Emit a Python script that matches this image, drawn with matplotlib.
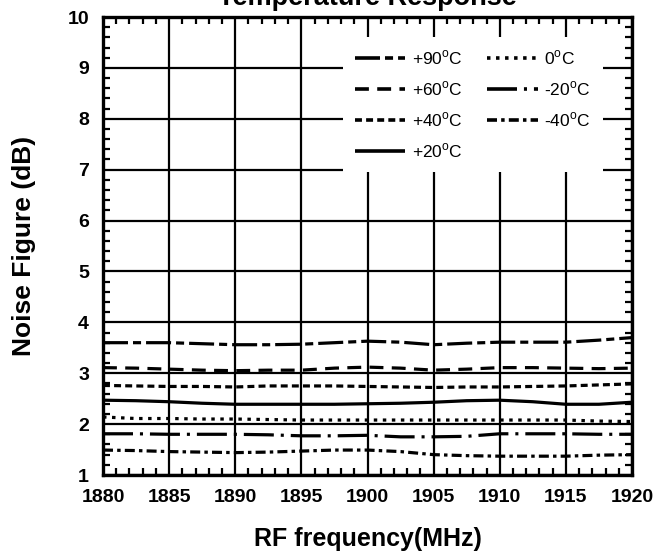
import matplotlib
matplotlib.use("Agg")
import matplotlib.pyplot as plt
from matplotlib.ticker import MultipleLocator

plt.rcParams['font.family'] = ['Liberation Sans', 'DejaVu Sans']
plt.rcParams['mathtext.fontset'] = 'custom'
plt.rcParams['mathtext.rm'] = 'Liberation Sans'
plt.rcParams['lines.scale_dashes'] = False

freq = [1880, 1882.5, 1885, 1887.5, 1890, 1892.5, 1895, 1897.5, 1900,
        1902.5, 1905, 1907.5, 1910, 1912.5, 1915, 1917.5, 1920]

nf_p90 = [3.60, 3.60, 3.60, 3.58, 3.56, 3.56, 3.57, 3.60, 3.63,
          3.61, 3.56, 3.59, 3.61, 3.61, 3.61, 3.65, 3.70]
nf_p60 = [3.11, 3.10, 3.08, 3.06, 3.05, 3.06, 3.06, 3.10, 3.12,
          3.10, 3.06, 3.08, 3.11, 3.11, 3.10, 3.09, 3.10]
nf_p40 = [2.76, 2.75, 2.74, 2.74, 2.73, 2.75, 2.75, 2.75, 2.74,
          2.73, 2.72, 2.73, 2.73, 2.74, 2.75, 2.77, 2.79]
nf_p20 = [2.47, 2.46, 2.44, 2.41, 2.39, 2.39, 2.39, 2.39, 2.40,
          2.41, 2.43, 2.46, 2.47, 2.44, 2.39, 2.39, 2.43]
nf_0 = [2.14, 2.11, 2.11, 2.10, 2.10, 2.09, 2.08, 2.08, 2.08,
        2.08, 2.08, 2.08, 2.08, 2.08, 2.08, 2.06, 2.05]
nf_m20 = [1.81, 1.81, 1.80, 1.80, 1.80, 1.79, 1.77, 1.77, 1.78,
          1.75, 1.75, 1.76, 1.81, 1.81, 1.81, 1.80, 1.80]
nf_m40 = [1.49, 1.48, 1.46, 1.45, 1.44, 1.45, 1.47, 1.49, 1.49,
          1.46, 1.40, 1.38, 1.37, 1.37, 1.37, 1.39, 1.40]

labels = ["+90$^{\\mathrm{o}}$C", "+60$^{\\mathrm{o}}$C", "+40$^{\\mathrm{o}}$C",
          "+20$^{\\mathrm{o}}$C", "0$^{\\mathrm{o}}$C", "-20$^{\\mathrm{o}}$C",
          "-40$^{\\mathrm{o}}$C"]
series = [nf_p90, nf_p60, nf_p40, nf_p20, nf_0, nf_m20, nf_m40]
styles = [(0, (18, 3.6, 5.8, 3.6)),
          (0, (10, 6)),
          (0, (5, 3)),
          'solid',
          (0, (2.5, 4)),
          (0, (21.6, 5, 2.2, 5)),
          (0, (7.2, 3, 2.5, 3))]

x_ticks = [1880, 1885, 1890, 1895, 1900, 1905, 1910, 1915, 1920]
y_ticks = [1, 2, 3, 4, 5, 6, 7, 8, 9, 10]

fig = plt.figure(figsize=(6.68, 5.56), dpi=100)
ax = fig.add_axes([103/668, 1-475/556, (632-103)/668, (475-17)/556])

for ys, lab, ls in zip(series, labels, styles):
    ax.plot(freq, ys, color='black', lw=2.3, linestyle=ls, label=lab,
            solid_capstyle='butt', dash_capstyle='butt')

ax.set_xlim(1880, 1920)
ax.set_ylim(1, 10)
ax.set_xticks(x_ticks)
ax.set_yticks(y_ticks)
ax.xaxis.set_minor_locator(MultipleLocator(1))
ax.yaxis.set_minor_locator(MultipleLocator(0.2))
ax.grid(True, which='major', color='black', lw=1.6)
ax.set_axisbelow(True)
for s in ax.spines.values():
    s.set_linewidth(2.4)
ax.tick_params(which='both', direction='in', top=True, right=True, width=1.6)
ax.tick_params(which='major', length=0, labelsize=14)
ax.tick_params(axis='x', which='major', pad=10)
ax.tick_params(axis='y', which='major', pad=10)
ax.tick_params(which='minor', length=5)
for t in ax.get_xticklabels() + ax.get_yticklabels():
    t.set_fontweight('bold')

ax.set_xlabel("RF frequency(MHz)", fontsize=18, fontweight='bold')
ax.set_ylabel("Noise Figure (dB)", fontsize=19, fontweight='bold')
ax.xaxis.set_label_coords(0.5, (475-527)/458)
ax.yaxis.set_label_coords((36-103)/529, 0.5)

fig.text(367/668, 1-5/556, "Temperature Response", ha='center', va='baseline',
         fontsize=19.5, fontweight='bold')

leg = ax.legend(ncol=2, loc='upper left',
                bbox_to_anchor=((334-103)/529, 1-(28-17)/458),
                fontsize=12.5, frameon=True, facecolor='white', edgecolor='none',
                framealpha=1, fancybox=False, handlelength=2.9,
                handletextpad=0.4, columnspacing=1.4, labelspacing=0.7,
                borderpad=0.7)
for h in leg.get_lines():
    h.set_linewidth(2.6)

fig.savefig("out.png", dpi=100)
